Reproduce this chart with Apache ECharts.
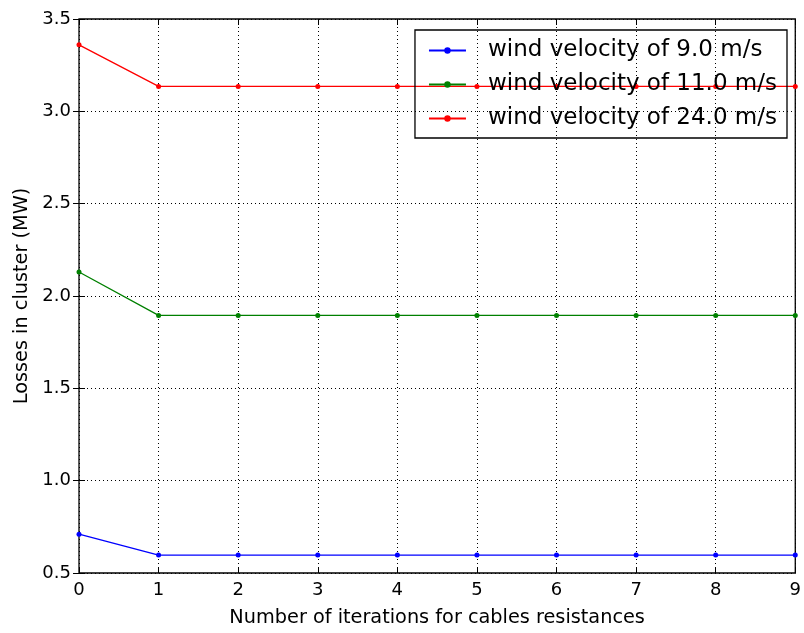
<!DOCTYPE html>
<html><head><meta charset="utf-8">
<script src="https://cdn.jsdelivr.net/npm/echarts@6/dist/echarts.min.js"></script>
<style>html,body{margin:0;padding:0;background:#fff}#c{width:804px;height:633px}</style>
</head><body><div id="c"></div>
<script>
const iterations = [0,1,2,3,4,5,6,7,8,9];
const seriesNames = ['wind velocity of 9.0 m/s','wind velocity of 11.0 m/s','wind velocity of 24.0 m/s'];
const loss9 = [0.71,0.597,0.597,0.597,0.597,0.597,0.597,0.597,0.597,0.597];
const loss11 = [2.13,1.895,1.895,1.895,1.895,1.895,1.895,1.895,1.895,1.895];
const loss24 = [3.36,3.135,3.135,3.135,3.135,3.135,3.135,3.135,3.135,3.135];
const colors = ['#0000ff','#008000','#ff0000'];

const font = 'DejaVu Sans';
const chart = echarts.init(document.getElementById('c'));
function mk(name, data, color){
  return {name, type:'line', data: iterations.map((x,i)=>[x,data[i]]), symbol:'circle', symbolSize:5,
    lineStyle:{color, width:1.3}, itemStyle:{color}, animation:false};
}
chart.setOption({
  animation:false,
  grid:{left:79,right:7,top:19,bottom:60,show:true,borderColor:'#000',borderWidth:1.3},
  legend:{orient:'vertical',right:17,top:30,itemWidth:37,itemHeight:8,itemGap:11,
    borderColor:'#000',borderWidth:1.3,padding:[9,10,8,13],
    textStyle:{fontFamily:font,fontSize:23,color:'#000',padding:[0,0,0,17]},
    data:seriesNames},
  xAxis:[{type:'value',min:0,max:9,interval:1,
    name:'Number of iterations for cables resistances',nameLocation:'middle',nameGap:35,
    nameTextStyle:{fontFamily:font,fontSize:19.3,color:'#000'},
    axisLine:{show:false},axisTick:{inside:true,length:6,lineStyle:{color:'#000'}},
    axisLabel:{fontFamily:font,fontSize:18,color:'#000',margin:8},
    splitLine:{show:true,lineStyle:{color:'#000',type:[1,3],width:1}}},
    {type:'value',min:0,max:9,interval:1,position:'top',axisLine:{show:false},
    axisTick:{inside:true,length:6,lineStyle:{color:'#000'}},axisLabel:{show:false},splitLine:{show:false}}],
  yAxis:[{type:'value',min:0.5,max:3.5,interval:0.5,
    name:'Losses in cluster (MW)',nameLocation:'middle',nameGap:47,
    nameTextStyle:{fontFamily:font,fontSize:19.3,color:'#000'},
    axisLine:{show:false},axisTick:{inside:true,length:6,lineStyle:{color:'#000'}},
    axisLabel:{fontFamily:font,fontSize:18,color:'#000',margin:8,formatter:v=>v.toFixed(1)},
    splitLine:{show:true,lineStyle:{color:'#000',type:[1,3],width:1}}},
    {type:'value',min:0.5,max:3.5,interval:0.5,position:'right',axisLine:{show:false},
    axisTick:{inside:true,length:6,lineStyle:{color:'#000'}},axisLabel:{show:false},splitLine:{show:false}}],
  series:[mk(seriesNames[0],loss9,colors[0]),mk(seriesNames[1],loss11,colors[1]),mk(seriesNames[2],loss24,colors[2])]
});
</script></body></html>
